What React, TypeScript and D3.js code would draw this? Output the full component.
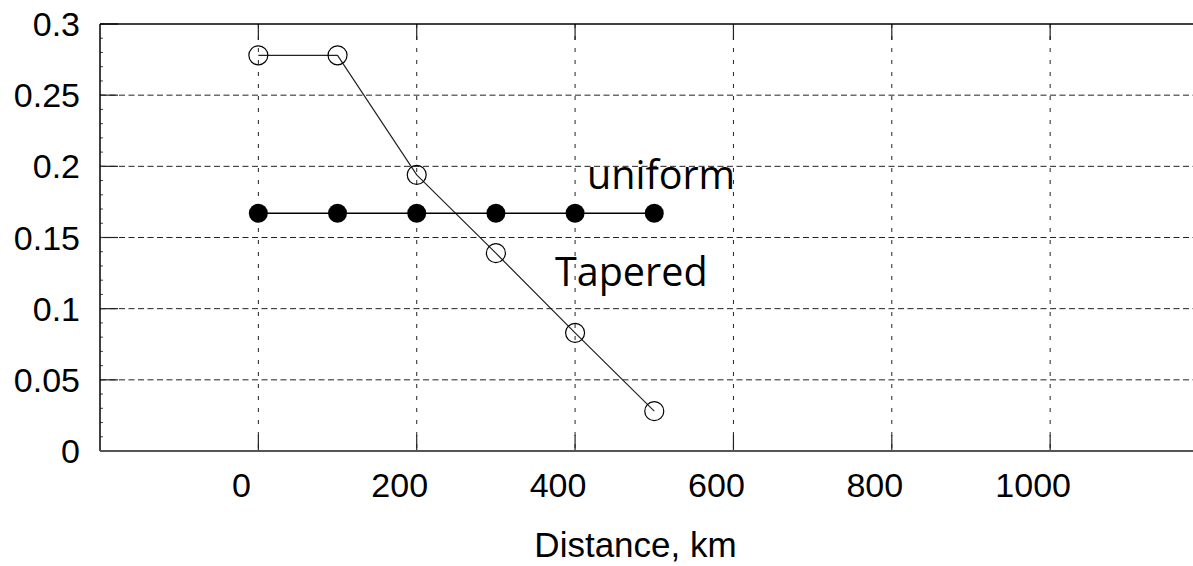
import React from "react";
import * as d3 from "d3";

// Distance along the fault (km) and slip fraction per segment
const distances = [0, 100, 200, 300, 400, 500];
const taperedValues = [0.278, 0.278, 0.194, 0.139, 0.083, 0.028];
const uniformValues = [0.167, 0.167, 0.167, 0.167, 0.167, 0.167];
const xTicks = [0, 200, 400, 600, 800, 1000];
const yTicks = [0, 0.05, 0.1, 0.15, 0.2, 0.25, 0.3];
const yTickLabels = ["0", "0.05", "0.1", "0.15", "0.2", "0.25", "0.3"];
const xTitle = "Distance, km";
const seriesLabels = { uniform: "uniform", tapered: "Tapered" };

const W = 1193;
const H = 566;
const left = 100;
const top = 24;
const bottom = 451;

export default function App() {
  const x = d3.scaleLinear().domain([-200, 1200]).range([left, left + 1400 * 0.7918]);
  const y = d3.scaleLinear().domain([0, 0.3]).range([bottom, top]);
  const right = x(1200);

  const line = d3
    .line<[number, number]>()
    .x((d) => x(d[0]))
    .y((d) => y(d[1]));

  const tapered: [number, number][] = distances.map((d, i) => [d, taperedValues[i]]);
  const uniform: [number, number][] = distances.map((d, i) => [d, uniformValues[i]]);
  const minorY = d3.range(0, 31).map((i) => i / 100);

  const axisFont = "'Liberation Sans', Arial, sans-serif";
  const labelFont = "'Open Sans', sans-serif";

  return (
    <svg
      width={W}
      height={H}
      style={{ position: "absolute", left: 0, top: 0, background: "#fff" }}
    >
      <rect x={0} y={0} width={W} height={H} fill="#fff" />
      {/* horizontal grid */}
      {yTicks
        .filter((t) => t > 0 && t < 0.3)
        .map((t) => (
          <line
            key={"hg" + t}
            x1={left}
            x2={right}
            y1={y(t)}
            y2={y(t)}
            stroke="#222"
            strokeWidth={1}
            strokeDasharray="6,3.5"
          />
        ))}
      {/* vertical grid */}
      {xTicks.map((t) => (
        <line
          key={"vg" + t}
          x1={x(t)}
          x2={x(t)}
          y1={top}
          y2={bottom}
          stroke="#222"
          strokeWidth={1}
          strokeDasharray="4,8"
        />
      ))}
      {/* major ticks, inward */}
      {xTicks.map((t) => (
        <g key={"xt" + t}>
          <line x1={x(t)} x2={x(t)} y1={bottom} y2={bottom - 16} stroke="#222" strokeWidth={1.2} />
          <line x1={x(t)} x2={x(t)} y1={top} y2={top + 16} stroke="#222" strokeWidth={1.2} />
        </g>
      ))}
      {yTicks.map((t) => (
        <line key={"yt" + t} x1={left} x2={left + 18} y1={y(t)} y2={y(t)} stroke="#222" strokeWidth={1.2} />
      ))}
      {minorY.map((t) => (
        <line key={"ym" + t} x1={left} x2={left + 3} y1={y(t)} y2={y(t)} stroke="#444" strokeWidth={1} />
      ))}
      {/* frame */}
      <line x1={left} x2={right} y1={top} y2={top} stroke="#000" strokeWidth={1.5} />
      <line x1={left} x2={left} y1={top} y2={bottom} stroke="#000" strokeWidth={1.5} />
      <line x1={left} x2={right} y1={bottom} y2={bottom} stroke="#555" strokeWidth={2} />

      {/* y tick labels */}
      {yTicks.map((t, i) => (
        <text
          key={"yl" + t}
          x={80}
          y={y(t) + 12}
          textAnchor="end"
          fontFamily={axisFont}
          fontSize={34}
          fill="#000"
        >
          {yTickLabels[i]}
        </text>
      ))}
      {/* x tick labels */}
      {xTicks.map((t) => (
        <text
          key={"xl" + t}
          x={x(t) - 17}
          y={497}
          textAnchor="middle"
          fontFamily={axisFont}
          fontSize={34}
          fill="#000"
        >
          {String(t)}
        </text>
      ))}
      <text x={635.5} y={557} textAnchor="middle" fontFamily={axisFont} fontSize={35} fill="#000">
        {xTitle}
      </text>

      {/* series */}
      <path d={line(tapered) || ""} fill="none" stroke="#222" strokeWidth={1.2} />
      <path d={line(uniform) || ""} fill="none" stroke="#000" strokeWidth={1.5} />
      {tapered.map((d, i) => (
        <circle key={"tc" + i} cx={x(d[0])} cy={y(d[1])} r={9.5} fill="none" stroke="#000" strokeWidth={1.2} />
      ))}
      {uniform.map((d, i) => (
        <circle key={"uc" + i} cx={x(d[0])} cy={y(d[1])} r={9.5} fill="#000" />
      ))}

      <text x={587} y={189} fontFamily={labelFont} fontSize={39.5} fill="#000">
        {seriesLabels.uniform}
      </text>
      <text x={555} y={286} fontFamily={labelFont} fontSize={39.5} fill="#000">
        {seriesLabels.tapered}
      </text>
    </svg>
  );
}
